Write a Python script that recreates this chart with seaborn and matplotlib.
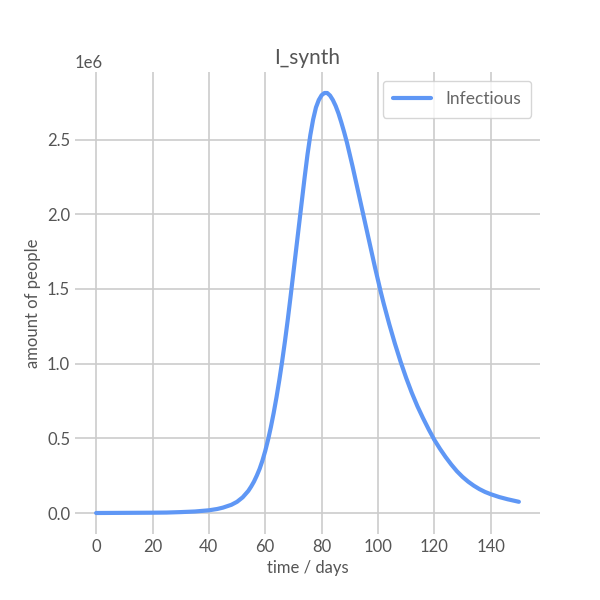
import matplotlib
matplotlib.use("Agg")
import matplotlib.pyplot as plt
import seaborn as sns
import pandas as pd

# infectious people over time (millions of people)
days = [0, 10, 20, 25, 30, 35, 40, 43, 45, 48, 50, 52, 54, 55, 56, 57, 58, 59,
        60, 61, 62, 63, 64, 65, 66, 67, 68, 69, 70, 71, 72, 73, 74, 75, 76, 77,
        78, 79, 80, 81, 82, 83, 84, 85, 86, 87, 88, 89, 90, 91, 92, 93, 94, 95,
        96, 97, 98, 99, 100, 101, 102, 103, 104, 105, 106, 107, 108, 110, 112,
        114, 116, 118, 120, 122, 124, 126, 128, 130, 132, 134, 136, 138, 140,
        143, 146, 150]
infectious_mio = [0.0, 0.001, 0.002, 0.003, 0.006, 0.010, 0.018, 0.027, 0.036,
                  0.055, 0.075, 0.105, 0.148, 0.177, 0.21, 0.25, 0.295, 0.35,
                  0.415, 0.49, 0.575, 0.67, 0.775, 0.89, 1.015, 1.15, 1.295,
                  1.45, 1.61, 1.77, 1.93, 2.09, 2.25, 2.40, 2.53, 2.635, 2.715,
                  2.765, 2.797, 2.812, 2.812, 2.795, 2.765, 2.725, 2.675, 2.615,
                  2.55, 2.48, 2.40, 2.32, 2.235, 2.15, 2.065, 1.98, 1.895, 1.81,
                  1.725, 1.64, 1.56, 1.48, 1.405, 1.335, 1.265, 1.20, 1.135,
                  1.075, 1.015, 0.905, 0.805, 0.715, 0.635, 0.56, 0.49, 0.43,
                  0.375, 0.325, 0.28, 0.242, 0.21, 0.183, 0.16, 0.141, 0.126,
                  0.107, 0.092, 0.075]

df = pd.DataFrame({"day": days, "Infectious": [v * 1e6 for v in infectious_mio]})

sns.set_theme(style="whitegrid")
text_col = "#555555"
plt.rcParams["font.family"] = ["Lato", "DejaVu Sans"]
plt.rcParams.update({
    "text.color": text_col,
    "axes.labelcolor": text_col,
    "xtick.color": text_col,
    "ytick.color": text_col,
    "grid.color": "#cccccc",
    "grid.linewidth": 1.2,
})

fig, ax = plt.subplots(figsize=(6, 6), dpi=100)
sns.lineplot(data=df, x="day", y="Infectious", ax=ax, color="#5f97f5",
             linewidth=3, label="Infectious")
sns.despine(left=True, bottom=True)

ax.set_title("I_synth", fontsize=15, color=text_col)
ax.set_xlabel("time / days", fontsize=12)
ax.set_ylabel("amount of people", fontsize=12)
ax.tick_params(labelsize=12, length=0)
ax.yaxis.get_offset_text().set_fontsize(12)
leg = ax.legend(loc="upper right", fontsize=12.5, frameon=True, borderpad=0.6,
                handlelength=2.2)
for t in leg.get_texts():
    t.set_color("#666666")

fig.savefig("out.png", dpi=100)
